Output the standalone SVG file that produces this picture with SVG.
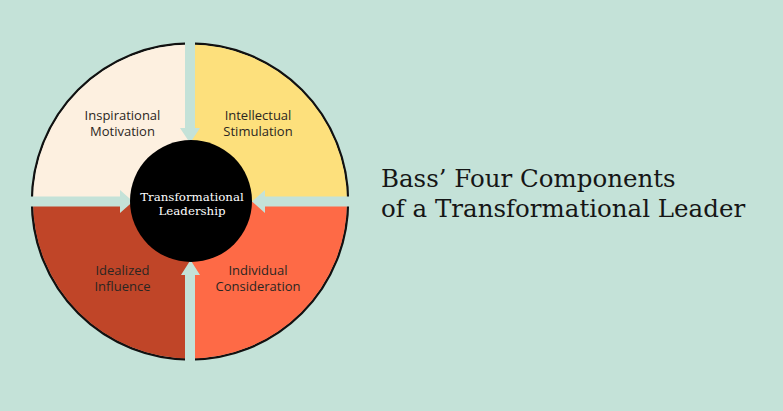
<svg xmlns="http://www.w3.org/2000/svg" width="783" height="411" viewBox="0 0 783 411">
<style>
.lbl{font-family:"Open Sans","Noto Sans",sans-serif;font-size:13px;fill:#2b2622;text-anchor:middle}
.ctr{font-family:"DejaVu Serif","Liberation Serif",serif;font-size:11.8px;fill:#ffffff;text-anchor:middle}
.ttl{font-family:"DejaVu Serif","Liberation Serif",serif;font-size:24.5px;fill:#161616}
.chan{fill:#c4e2d8}
</style>
<rect width="783" height="411" fill="#c4e2d8"/>
<circle cx="190" cy="201.5" r="158" fill="none" stroke="#111" stroke-width="2.5"/>
<g id="inspirational-motivation">
<path d="M190,201.5 L33,201.5 A157,157 0 0 1 190,44.5 Z" fill="#fdf0e0"/>
<text class="lbl" x="122.5" y="120">Inspirational</text>
<text class="lbl" x="122.5" y="135.5">Motivation</text>
</g>
<g id="intellectual-stimulation">
<path d="M190,201.5 L190,44.5 A157,157 0 0 1 347,201.5 Z" fill="#fde07c"/>
<text class="lbl" x="258" y="120">Intellectual</text>
<text class="lbl" x="258" y="135.5">Stimulation</text>
</g>
<g id="idealized-influence">
<path d="M190,201.5 L190,358.5 A157,157 0 0 1 33,201.5 Z" fill="#c04528"/>
<text class="lbl" x="122.5" y="275">Idealized</text>
<text class="lbl" x="122.5" y="290.5">Influence</text>
</g>
<g id="individual-consideration">
<path d="M190,201.5 L347,201.5 A157,157 0 0 1 190,358.5 Z" fill="#fe6a46"/>
<text class="lbl" x="258" y="275">Individual</text>
<text class="lbl" x="258" y="290.5">Consideration</text>
</g>
<g id="connectors">
<polygon class="chan" points="185,38 195,38 195,128 200,128 190,143 180,128 185,128"/>
<polygon class="chan" points="185,365 195,365 195,275 200,275 190.5,260 181,275 185,275"/>
<polygon class="chan" points="27,196.5 120,196.5 120,190 133,201.5 120,213 120,206.5 27,206.5"/>
<polygon class="chan" points="353,196.5 265,196.5 265,190 252,201.5 265,213 265,206.5 353,206.5"/>
</g>
<g id="transformational-leadership">
<circle cx="191" cy="201" r="61" fill="#000"/>
<text class="ctr" x="192" y="201">Transformational</text>
<text class="ctr" x="192" y="214.5">Leadership</text>
</g>
<g id="title">
<text class="ttl" x="381" y="187">Bass’ Four Components</text>
<text class="ttl" x="381" y="217">of a Transformational Leader</text>
</g>
</svg>
